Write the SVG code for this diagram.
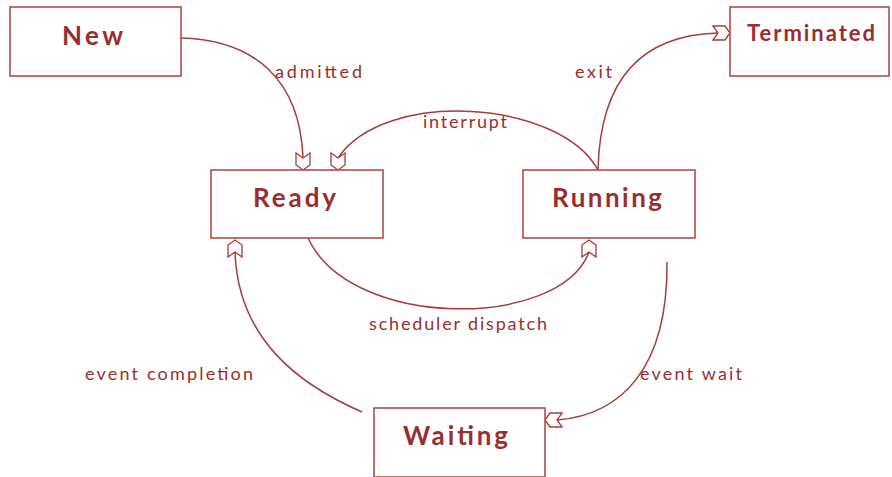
<svg xmlns="http://www.w3.org/2000/svg" width="892" height="477" viewBox="0 0 892 477">
  <style>
    .box { fill: #ffffff; stroke: #b04c4c; stroke-width: 1.6; }
    .title { font-family: Lato, "Open Sans", "Liberation Sans", sans-serif; font-weight: bold; fill: #9a2e2e; }
    .lbl { font-family: Lato, "Open Sans", "Liberation Sans", sans-serif; font-size: 18px; fill: #9a2e2e; }
    .edge { fill: none; stroke: #a63c3c; stroke-width: 1.5; }
    .head { fill: #ffffff; stroke: #a63c3c; stroke-width: 1.3; stroke-linejoin: miter; }
  </style>
  <defs>
    <!-- notched open arrowhead; reference point is the notch where the line meets it -->
    <marker id="hd-down" markerUnits="userSpaceOnUse" viewBox="-1 -9 20 18" refX="5" refY="0" markerWidth="20" markerHeight="18" orient="90">
      <polygon class="head" points="0,-7 5,0 0,7 12,7 17,0 12,-7"/>
    </marker>
    <marker id="hd-up" markerUnits="userSpaceOnUse" viewBox="-1 -9 20 18" refX="5" refY="0" markerWidth="20" markerHeight="18" orient="270">
      <polygon class="head" points="0,-7 5,0 0,7 12,7 17,0 12,-7"/>
    </marker>
    <marker id="hd-right" markerUnits="userSpaceOnUse" viewBox="-1 -9 20 18" refX="5" refY="0" markerWidth="20" markerHeight="18" orient="0">
      <polygon class="head" points="0,-7 5,0 0,7 12,7 17,0 12,-7"/>
    </marker>
    <marker id="hd-left" markerUnits="userSpaceOnUse" viewBox="-1 -9 20 18" refX="5" refY="0" markerWidth="20" markerHeight="18" orient="180">
      <polygon class="head" points="0,-7 5,0 0,7 12,7 17,0 12,-7"/>
    </marker>
  </defs>

  <g id="connectors">
    <g id="e-admitted">
      <path class="edge" d="M181,38 C 255,40 300,80 303,158" marker-end="url(#hd-down)"/>
      <text class="lbl" x="275" y="78" textLength="87" lengthAdjust="spacing">admitted</text>
    </g>
    <g id="e-interrupt">
      <path class="edge" d="M598,170 C 560,100 385,88 338,158" marker-end="url(#hd-down)"/>
      <text class="lbl" x="423" y="128" textLength="84" lengthAdjust="spacing">interrupt</text>
    </g>
    <g id="e-exit">
      <path class="edge" d="M598,170 C 600,80 640,35 718,33" marker-end="url(#hd-right)"/>
      <text class="lbl" x="575" y="78" textLength="37" lengthAdjust="spacing">exit</text>
    </g>
    <g id="e-dispatch">
      <path class="edge" d="M308,238 C 350,330 560,330 589,252" marker-end="url(#hd-up)"/>
      <text class="lbl" x="369" y="330" textLength="178" lengthAdjust="spacing">scheduler dispatch</text>
    </g>
    <g id="e-wait">
      <path class="edge" d="M667,262 C 668,370 620,415 557,420" marker-end="url(#hd-left)"/>
      <text class="lbl" x="640" y="380" textLength="102" lengthAdjust="spacing">event wait</text>
    </g>
    <g id="e-completion">
      <path class="edge" d="M362,412 C 300,385 238,340 235,252" marker-end="url(#hd-up)"/>
      <text class="lbl" x="85" y="380" textLength="168" lengthAdjust="spacing">event completion</text>
    </g>
  </g>

  <g id="n-new">
    <rect class="box" x="10" y="7" width="171" height="69"/>
    <text class="title" x="62" y="45" font-size="26" textLength="61" lengthAdjust="spacing">New</text>
  </g>
  <g id="n-terminated">
    <rect class="box" x="730" y="7" width="159" height="69"/>
    <text class="title" x="747" y="41" font-size="22" textLength="128" lengthAdjust="spacing">Terminated</text>
  </g>
  <g id="n-ready">
    <rect class="box" x="211" y="170" width="172" height="68"/>
    <text class="title" x="253" y="207" font-size="26" textLength="83" lengthAdjust="spacing">Ready</text>
  </g>
  <g id="n-running">
    <rect class="box" x="523" y="170" width="172" height="68"/>
    <text class="title" x="552" y="207" font-size="26" textLength="110" lengthAdjust="spacing">Running</text>
  </g>
  <g id="n-waiting">
    <rect class="box" x="374" y="408" width="171" height="69"/>
    <text class="title" x="403" y="445" font-size="26" textLength="105" lengthAdjust="spacing">Waiting</text>
  </g>
</svg>
